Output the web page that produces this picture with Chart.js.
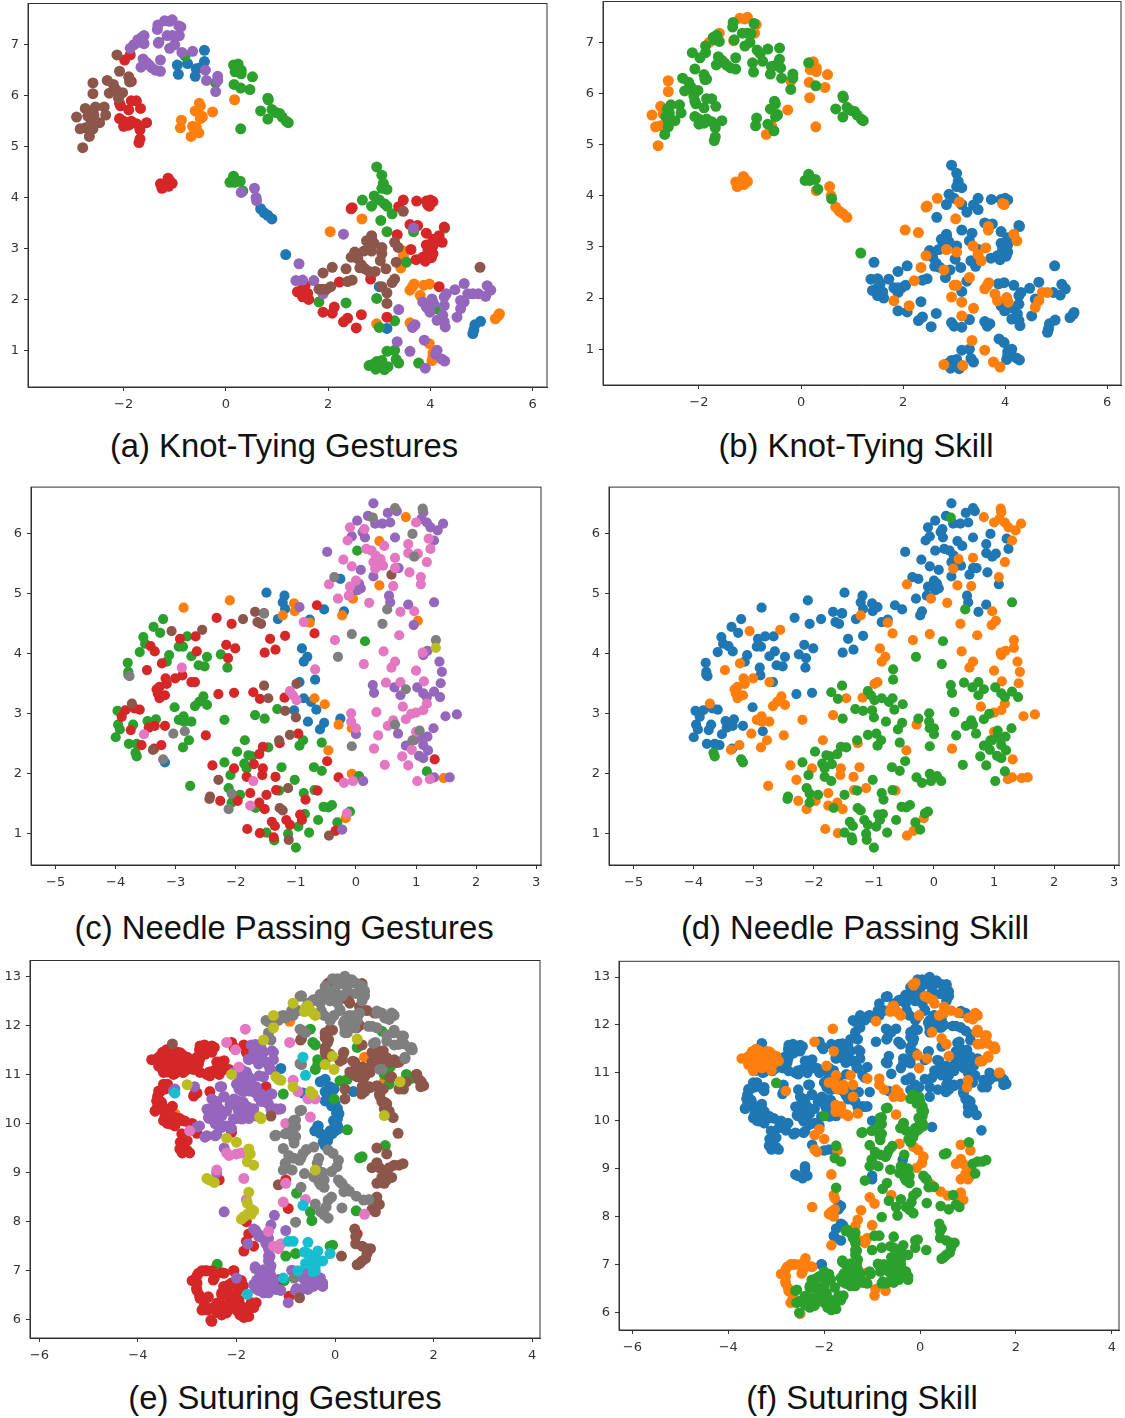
<!DOCTYPE html>
<html>
<head>
<meta charset="utf-8">
<script src="https://cdn.jsdelivr.net/npm/chart.js@4"></script>
<style>
html, body { margin: 0; background: #fff; }
body { position: relative; width: 1125px; height: 1418px; overflow: hidden; }
canvas { position: absolute; filter: blur(0.5px); }
.cap { position: absolute; width: 560px; text-align: center; font: 32.8px "Liberation Sans", Arial, sans-serif; color: #111; line-height: 36px; white-space: nowrap; }
</style>
</head>
<body>
<script>
const gestureColors = ['#1f77b4', '#ff7f0e', '#2ca02c', '#d62728', '#9467bd', '#8c564b', '#e377c2', '#7f7f7f', '#bcbd22', '#17becf'];
const skillColors = ['#1f77b4', '#ff7f0e', '#2ca02c'];

// every point is [x, y, skill] (skill 0 blue, 1 orange, 2 green), grouped by gesture colour

// Knot-Tying
const knotBlue = [[-0.95,6.6,2],[-0.93,6.42,2],[-0.75,6.63,2],[-0.58,6.53,2],[-0.6,6.38,2],[-0.5,6.55,2],[-0.42,6.67,2],[-0.42,6.89,2],[0.68,3.78,1],[0.75,3.7,1],[0.82,3.65,1],[0.9,3.58,1],[1.17,2.88,2],[3,2.25,1],[3.15,1.43,0],[4.85,1.4,0],[4.83,1.33,0],[4.87,1.5,0],[4.98,1.57,0]];
const knotOrange = [[-0.87,5.52,2],[-0.89,5.37,2],[-0.68,5.2,1],[-0.58,5.38,1],[-0.53,5.27,2],[-0.65,5.4,2],[-0.5,5.55,2],[-0.6,5.7,2],[-0.52,5.85,2],[-0.5,5.8,2],[-0.47,5.6,1],[-0.46,5.58,2],[-0.26,5.68,1],[0.17,5.92,1],[2.04,3.33,1],[2.66,3.58,0],[3.47,2.95,0],[3.47,2.85,1],[3.42,2.62,0],[3.6,2.18,1],[3.65,2.25,1],[3.68,2.3,1],[3.8,2.08,1],[3.87,2.28,0],[3.98,2.3,0],[4.02,1.78,0],[2.95,1.52,0],[3.6,1.54,0],[3.98,1.13,0],[4.05,0.95,0],[4.05,0.87,0],[4.03,0.8,0],[5.27,1.62,0],[5.33,1.68,0],[5.35,1.72,0]];
const knotGreen = [[0.15,6.6,2],[0.24,6.62,1],[0.18,6.47,1],[0.3,6.5,1],[0.3,6.43,1],[0.52,6.37,1],[0.16,6.22,1],[0.29,6.15,2],[0.47,6.12,1],[-0.8,6.78,2],[-0.2,6.25,1],[0.29,5.35,1],[0.82,5.95,2],[0.83,5.92,2],[0.68,5.7,2],[0.82,5.54,2],[0.9,5.73,2],[0.98,5.67,2],[1.05,5.65,2],[1.1,5.58,2],[1.18,5.5,2],[1.22,5.47,2],[0.08,4.3,2],[0.15,4.42,2],[0.17,4.3,2],[0.28,4.32,2],[0.33,4.13,2],[2.95,4.6,0],[3.05,4.44,0],[3.08,4.28,0],[3.05,4.18,0],[3.15,4.16,0],[2.67,3.95,1],[2.85,3.83,0],[2.9,4.03,0],[3,3.95,0],[3.1,3.88,1],[3.15,3.83,0],[3.25,3.68,0],[3.03,3.55,1],[3.15,3.33,0],[3.67,3.33,1],[4.28,3.4,0],[3.53,2.73,1],[1.82,1.95,1],[2.35,1.93,0],[2.95,2.02,1],[4.17,1.8,0],[3.3,1.58,0],[3,1.45,0],[3.3,1,0],[3.15,0.98,0],[3.33,0.82,0],[3.38,0.75,0],[2.8,0.7,1],[2.87,0.72,0],[2.95,0.78,0],[3,0.7,0],[3.05,0.8,0],[2.93,0.63,0],[3.1,0.62,0],[3.17,0.68,1],[3.77,0.75,1]];
const knotRed = [[-1.98,6.7,2],[-1.87,6.8,2],[-1.85,6.28,2],[-1.88,6.3,2],[-2.08,5.85,2],[-2.06,5.8,2],[-1.9,5.72,2],[-1.85,5.9,2],[-1.75,5.9,2],[-1.67,5.75,2],[-2.08,5.55,2],[-2,5.5,2],[-2,5.4,2],[-1.9,5.42,2],[-1.85,5.5,2],[-1.75,5.45,2],[-1.68,5.4,2],[-1.68,5.33,2],[-1.55,5.47,2],[-1.68,5.15,2],[-1.7,5.08,2],[-1.28,4.27,1],[-1.25,4.18,1],[-1.2,4.25,1],[-1.12,4.22,1],[-1.1,4.33,1],[-1.13,4.38,1],[-1.05,4.28,1],[3.38,3.82,0],[3.47,3.95,0],[2.45,3.78,1],[2.47,3.8,1],[3.73,3.93,0],[3.92,3.93,0],[3.98,3.83,1],[4,3.95,0],[4.05,3.92,0],[3.95,3.85,1],[3.6,3.47,0],[3.75,3.45,0],[3.35,3.27,0],[4.27,3.42,0],[3.92,3.3,0],[4.17,3.25,1],[4.05,3.18,0],[4.23,3.12,1],[3.92,3.07,0],[4.05,3.05,0],[3.95,2.95,0],[4.05,2.9,0],[3.62,2.98,1],[3.72,2.78,0],[3.9,2.75,0],[4.02,2.82,0],[3.85,2.83,0],[2.83,2.4,0],[2.22,2.34,1],[4.17,2.25,0],[1.4,2.15,0],[1.5,2.2,0],[1.55,2.28,0],[1.6,2.12,0],[1.5,2.05,0],[1.62,2,0],[1.55,2.1,0],[1.9,1.75,0],[2.08,1.73,0],[2.12,1.85,1],[2.3,1.56,0],[2.38,1.63,0],[2.55,1.44,0],[2.65,1.7,0],[3.15,1.65,1]];
const knotPurple = [[-1.34,7.3,2],[-1.33,7.39,2],[-1.2,7.47,1],[-1.1,7.46,1],[-1.05,7.49,1],[-0.92,7.37,2],[-0.88,7.35,1],[-0.91,7.18,1],[-1.15,7.18,2],[-1.05,7.18,2],[-0.98,7.17,2],[-1.32,7.03,1],[-1.31,7.05,2],[-1.1,6.93,2],[-1,7,2],[-1.87,6.93,2],[-1.8,7,1],[-1.72,7.1,2],[-1.65,7.14,2],[-1.6,7.18,1],[-1.6,7.02,2],[-1.7,7.05,2],[-1.62,6.72,2],[-1.55,6.65,2],[-1.66,6.56,2],[-1.45,6.55,2],[-1.38,6.5,2],[-1.28,6.48,2],[-1.28,6.7,2],[-1.5,6.6,2],[-0.86,6.85,2],[-0.65,6.87,2],[-0.4,6.5,2],[-0.38,6.3,2],[-0.16,6.38,2],[-0.16,6.3,2],[-0.2,6.08,2],[0.3,4.1,1],[0.56,4.18,1],[0.59,4,1],[0.6,3.94,2],[1.43,2.7,0],[1.37,2.37,0],[1.5,2.38,0],[1.72,2.37,0],[1.9,2.11,0],[2.3,3.28,1],[3.67,3.4,1],[3.38,1.8,1],[3.7,1.5,0],[3.65,1.45,0],[3.35,1.17,1],[3.6,0.98,1],[3.88,1.2,0],[4.13,1,0],[4.1,0.92,0],[4.22,0.83,0],[4.28,0.79,0],[3.9,0.65,1],[4.31,2.11,0],[4.48,2.19,0],[4.66,2.31,0],[4.83,2.11,1],[5.11,2.27,0],[5.18,2.18,0],[5.08,2.06,0],[4.94,2.11,0],[4.73,2.11,1],[4.59,1.98,0],[4.66,1.95,1],[4.59,1.82,1],[4.52,1.65,0],[4.27,2.05,0],[4.27,1.88,0],[4.24,1.69,0],[4.13,1.59,0],[4.27,1.56,0],[4.29,1.46,0],[3.85,1.95,1],[4.03,2.01,1],[3.99,1.75,0],[3.92,1.85,0],[4.06,1.92,1]];
const knotBrown = [[-2.13,6.8,2],[-2.08,6.48,2],[-1.9,6.37,2],[-1.88,6.27,2],[-2.6,6.25,1],[-2.6,6.04,1],[-2.32,6.3,2],[-2.2,6.22,2],[-2.28,6.05,2],[-2.15,6.12,2],[-2.02,6.06,2],[-2.1,5.95,2],[-2.92,5.58,1],[-2.75,5.75,1],[-2.62,5.7,2],[-2.55,5.78,2],[-2.65,5.55,2],[-2.7,5.6,1],[-2.58,5.62,2],[-2.38,5.78,2],[-2.35,5.62,2],[-2.47,5.47,2],[-2.6,5.45,2],[-2.75,5.37,1],[-2.85,5.35,1],[-2.68,5.38,1],[-2.6,5.35,2],[-2.67,5.2,2],[-2.8,4.98,1],[3.47,3.73,0],[2.85,3.25,0],[2.75,3.15,0],[2.8,3.1,0],[2.9,3.1,0],[2.8,3,0],[2.85,2.95,1],[2.7,2.95,0],[3.05,3.02,0],[3.05,2.9,1],[3.3,3.12,0],[3.37,3.02,1],[3.02,2.76,0],[2.52,2.93,0],[2.45,2.83,1],[2.58,2.8,0],[2.65,2.68,0],[2.72,2.6,0],[2.8,2.55,1],[2.92,2.55,0],[3.13,2.6,0],[3.33,2.73,0],[2.62,2.62,0],[2.35,2.6,1],[2.08,2.63,0],[1.9,2.52,0],[1.82,2.2,0],[1.97,2.2,0],[1.9,2.2,0],[2.05,2.25,0],[2.47,2.38,0],[2.38,2.35,0],[3.3,2.4,1],[3.25,2.33,0],[3.05,2.25,1],[3.15,2.13,0],[3.15,1.92,1],[4.97,2.63,0],[2.85,3.2,0]];
const knotGroups = [knotBlue, knotOrange, knotGreen, knotRed, knotPurple, knotBrown];

// Needle Passing
const needleBlue = [[-1.49,5.02,0],[-1.19,4.97,0],[-1.22,4.86,0],[-1.18,4.75,0],[-1.3,4.58,0],[-0.77,4.57,0],[-0.53,4.74,0],[-0.2,4.71,0],[-0.26,5.25,0],[-0.9,4.09,1],[-0.81,3.95,1],[-0.87,3.87,1],[-0.94,3.53,1],[-0.68,3.57,2],[-0.87,3.26,2],[-0.75,3.2,2],[-0.66,3.07,2],[-1.03,3.06,2],[-0.8,2.87,2],[-0.6,2.74,2],[-0.53,2.85,2],[-0.26,2.92,2],[-3.18,2.19,2]];
const needleOrange = [[-2.87,4.77,0],[-2.1,4.89,0],[-1.03,4.84,0],[-1.02,4.71,0],[-1.22,4.64,1],[-0.77,4.52,1],[-0.23,4.64,0],[0.39,5.88,0],[0.83,6.28,1],[0.39,5.14,1],[-0.05,4.92,1],[1.03,4.55,1],[-0.69,3.26,2],[-0.52,3.16,2],[-0.29,2.82,1],[-0.07,2.76,2],[-0.46,2.39,1],[-0.07,2,2],[-0.17,1.26,1],[1.46,1.93,1]];
const needleGreen = [[-3.21,4.58,0],[-3.37,4.45,0],[-3.26,4.35,0],[-3.54,4.28,0],[-3.51,4.17,0],[-3.6,4.03,0],[-3.11,3.98,0],[-3.15,3.87,0],[-2.81,4.29,0],[-2.95,4.12,0],[-2.88,4.12,0],[-2.74,3.96,0],[-2.48,3.95,0],[-2.62,3.81,0],[-2.52,3.79,0],[-2.25,3.99,0],[-2.14,3.77,0],[-3.8,3.85,0],[-3.79,3.7,0],[-3.79,3.65,0],[-2.54,3.29,1],[-2.61,3.2,1],[-2.48,3.15,1],[-2.68,3.13,1],[-3.02,3.11,0],[-2.95,2.9,1],[-2.87,2.96,1],[-2.86,2.87,1],[-2.74,2.87,1],[-2.19,2.9,1],[-1.68,2.98,1],[-1.52,2.92,2],[-1.31,3.08,2],[-3.97,3.05,0],[-3.96,2.82,0],[-3.93,2.74,0],[-4,2.61,0],[-3.71,2.82,0],[-3.47,2.88,0],[-3.33,2.91,0],[-3.78,2.5,0],[-3.65,2.5,0],[-3.67,2.35,2],[-3.65,2.29,2],[-2.78,2.56,1],[-2.88,2.44,1],[-1.85,2.56,1],[-1.98,2.37,2],[-2.19,2.19,2],[-2.09,1.98,2],[-1.79,2.31,2],[-1.86,2.17,2],[-1.82,2.09,2],[-1.73,2.29,2],[-1.46,2.44,2],[-1.24,2.11,1],[-2.76,1.8,1],[-2.12,1.76,2],[-1.93,1.65,2],[-2.07,1.52,2],[-1.67,1.43,2],[-1.28,1.72,2],[-1.02,1.9,2],[-0.87,1.68,2],[-0.69,1.73,2],[-0.7,2.11,2],[-0.57,2.05,2],[-0.57,2.52,2],[-0.88,2.56,2],[-0.94,2.47,2],[-0.54,1.45,2],[-0.46,1.44,2],[-0.4,1.48,2],[-0.1,1.37,2],[-0.63,1.23,2],[-0.31,1.19,2],[-0.85,1.33,2],[-0.78,1.02,2],[-0.96,1.12,2],[-1.49,1.02,2],[-1.13,1,2],[-1.36,0.89,2],[-1,0.77,2],[0.02,5.72,0],[0.15,4.21,2],[1.18,2.04,2],[0.05,1.96,2]];
const needleRed = [[-2.32,4.6,0],[-2.07,4.5,0],[-2.67,4.29,0],[-2.93,4.25,0],[-2.65,4.04,0],[-2.16,4.15,0],[-2.01,4.09,0],[-2.13,3.93,0],[-1.43,4.25,0],[-1.52,4.02,0],[-1.34,4.07,0],[-1.18,4.3,0],[-0.69,4.34,1],[-0.65,4.81,0],[-3.42,4.13,0],[-3.35,4.04,0],[-3.23,3.84,1],[-3.48,3.73,1],[-3.17,3.59,1],[-3.32,3.41,1],[-3.27,3.45,1],[-3.3,3.34,1],[-3.27,3.26,1],[-3.18,3.31,1],[-3.15,3.5,1],[-3.01,3.59,1],[-2.89,3.64,0],[-2.74,3.53,1],[-2.68,3.53,0],[-2.29,3.33,0],[-2.03,3.35,0],[-1.71,3.36,2],[-1.6,3.25,2],[-1.19,3.27,1],[-3.84,3.06,0],[-3.69,3.09,0],[-3.6,3.07,0],[-3.9,2.95,0],[-3.75,2.73,0],[-3.45,2.77,0],[-3.35,2.8,0],[-3.18,2.8,0],[-3.57,2.48,0],[-3.36,2.42,0],[-3.24,2.48,1],[-2.5,2.64,1],[-0.96,2.67,2],[-1.27,2.51,1],[-1.55,2.45,2],[-1.61,2.33,2],[-1.7,2.16,2],[-1.55,2.09,1],[-1.56,1.98,1],[-1.82,1.95,2],[-2.03,2.09,1],[-2.39,2.14,1],[-2.26,1.55,1],[-1.97,1.55,1],[-1.76,1.68,1],[-1.49,1.65,2],[-1.34,1.95,1],[-1.61,1.52,1],[-1.52,1.41,1],[-1.33,1.73,1],[-0.84,1.57,2],[-0.64,1.72,1],[-0.48,2.21,2],[-0.29,1.94,2],[-1.81,1.08,1],[-1.6,1.01,1],[-1.4,1.2,2],[-1.35,1.13,2],[-1.37,0.94,2],[-1.16,1.23,2],[-1.1,1.15,2],[-0.93,1.32,2],[-0.9,1.23,2],[-0.34,1.05,1],[1.31,2.24,1]];
const needlePurple = [[0.29,6.51,0],[0.02,6.22,0],[0.2,6.3,0],[0.32,6.17,0],[0.44,6.17,0],[0.53,6.35,0],[0.68,6.38,0],[0.65,5.94,0],[0.57,6.19,0],[0.11,6.03,0],[0.15,5.94,0],[-0.07,5.96,0],[-0.48,5.7,0],[1.09,6.25,1],[1.12,6.36,1],[1.18,6.19,1],[1.24,6.11,1],[1.36,6.06,1],[1.45,6.17,1],[1.3,5.89,1],[0.08,5.4,0],[0.29,5.29,0],[0.71,5.43,0],[0.05,5.17,0],[0.08,5.09,0],[0.02,5.06,0],[0.55,4.97,0],[0.57,4.86,0],[0.87,4.82,0],[1.3,4.86,2],[-0.94,4.78,0],[0.96,4.48,1],[1.12,3.98,1],[1.19,4.05,1],[1.39,3.87,1],[1.43,3.7,1],[1.41,3.51,1],[0.28,3.48,2],[0.3,3.35,2],[0.64,3.44,2],[0.74,3.31,2],[1.02,3.44,2],[1.12,3.34,2],[1.18,3.28,2],[1.3,3.37,2],[1.4,3.28,2],[1.49,2.96,1],[1.68,2.99,1],[1.29,2.76,2],[0.7,2.67,2],[0,2.66,2],[0.83,2.47,2],[0.97,2.56,2],[1.06,2.62,2],[1.19,2.62,2],[1.12,2.48,2],[1.2,2.39,2],[1.05,2.3,2],[1.12,2.26,2],[0.12,1.88,2],[1.3,1.94,1],[1.56,1.94,1],[-0.23,1.07,2]];
const needleBrown = [[-3.07,4.38,1],[-2.56,4.4,1],[-1.88,4.58,0],[-1.68,4.7,0],[-1.53,4.68,0],[-1.64,4.53,0],[-1.58,4.5,0],[-0.99,3.5,1],[-1.53,3.47,2],[-1.46,3.26,1],[-1.18,3.05,2],[-1,2.94,2],[-1.1,2.65,2],[-1.28,2.56,2],[-2.29,1.9,1],[-2.43,1.62,2],[-2.44,1.58,2],[-1.13,1.76,1],[-1.27,1.43,2],[-1.22,1.39,2],[-1.12,0.9,2],[-0.45,0.97,1],[0.59,5.32,0],[-3.73,3.17,1],[-3.38,2.4,1]];
const needlePink = [[-0.1,6.11,0],[0.14,6.08,0],[-0.14,5.89,0],[0.47,5.8,0],[0.17,5.75,0],[0.26,5.72,0],[0.33,5.64,0],[0.41,5.58,1],[0.29,5.53,0],[0.38,5.47,0],[0.32,5.42,1],[0.45,5.47,0],[0.65,5.6,1],[0.87,5.83,0],[0.87,5.68,0],[1,6.19,1],[1.03,5.67,0],[1.21,5.92,0],[1.24,5.75,0],[1.18,5.53,1],[-0.21,5.57,0],[-0.07,5.46,0],[0.65,5.43,0],[0.89,5.36,0],[1.08,5.28,1],[1.08,5.16,0],[0,5.22,0],[-0.1,5.12,0],[-0.45,5.16,1],[-0.3,4.92,0],[-0.12,4.97,0],[0.22,4.85,1],[0.62,5.13,1],[0.74,4.7,0],[0.97,4.71,1],[0.72,4.31,1],[0.46,4.04,1],[-0.35,4.23,1],[0.13,3.83,2],[0.65,3.87,1],[0.59,3.77,1],[1,3.72,1],[1.11,4.02,1],[0.5,3.52,2],[0.74,3.53,2],[1.13,3.54,1],[-0.68,3.74,2],[-1.1,3.38,2],[-1.05,3.31,2],[-0.99,3.23,2],[-0.87,4.53,0],[0.34,3.03,2],[0.78,3.12,1],[0.83,2.91,2],[0.92,3,2],[1,3.02,1],[1.12,3.06,1],[1.18,3.17,1],[-0.08,3.01,2],[-0.08,2.87,2],[0,2.76,2],[0.53,2.8,2],[0.62,2.89,2],[0.37,2.64,2],[0.3,2.42,1],[0.77,2.29,2],[0.87,2.14,2],[0.48,2.15,2],[0.93,2.4,2],[1,2.7,1],[1.02,1.88,2],[1.23,1.91,1],[-0.2,1.85,2],[-0.05,1.88,2],[-1.71,1.88,2],[-1.76,1.47,1],[-0.15,1.34,2],[-2.9,3.77,0],[-3.53,2.66,0]];
const needleGray = [[0.28,6.27,2],[0.65,6.43,0],[1.11,6.42,1],[0.94,6,0],[0.97,5.62,0],[-0.36,5.28,0],[0.52,4.74,2],[0.44,4.5,1],[-0.07,4.33,1],[-0.3,3.95,2],[1.33,4.23,1],[-1.53,4.67,0],[0.83,3.41,2],[0.65,2.82,2],[1.06,2.72,2],[0.94,2.56,2],[-0.07,2.46,2],[-3.04,2.67,1],[-2.85,2.71,0],[-3.77,3.63,0],[-3.21,2.24,2],[-2.07,1.67,2],[-2.12,1.41,1]];
const needleOlive = [[1.33,4.1,1]];
const needleGroups = [needleBlue, needleOrange, needleGreen, needleRed, needlePurple, needleBrown, needlePink, needleGray, needleOlive];

// Suturing
const sutureBlue = [[-0.3,10.85,0],[-0.2,10.9,0],[-0.1,10.75,0],[-0.2,10.65,0],[-0.02,10.7,0],[-0.15,10.55,2],[-0.1,10.45,2],[0,10.4,2],[0.05,10.3,2],[0.08,10.2,2],[0.05,10.1,2],[0,10,2],[0.05,9.95,2],[-0.35,9.95,2],[-0.4,9.85,2],[-0.3,9.8,2],[-0.2,9.75,2],[-0.1,9.85,2],[0,9.85,2],[-0.15,9.65,2],[-0.2,9.55,2],[-0.05,9.8,2],[-1.35,11.2,0],[-1.1,11.12,0],[0.37,10.65,0],[-0.65,10.62,0],[-0.24,10.87,0],[-0.03,10.7,0],[-0.2,10.46,2],[-0.07,10.36,2],[0.03,10.22,2],[-0.03,10.06,2],[0.07,9.89,2],[-0.34,9.95,2],[-0.41,9.85,2],[-0.13,9.72,2],[-0.24,9.62,2]];
const sutureOrange = [[-0.92,12.08,1],[0.6,11.35,1],[1,10.85,1],[-3.25,10.2,0]];
const sutureGreen = [[-0.5,11.92,0],[-0.45,11.65,0],[-0.4,11.6,0],[-0.35,11.3,0],[-0.4,11.1,0],[-0.35,11.2,0],[0.45,11.55,0],[0.95,11.88,0],[0.1,10.87,0],[0.25,10.9,0],[1.12,11.15,0],[1.45,11,0],[1.45,10.9,0],[1.55,10.92,0],[1,11,0],[1.1,10.8,0],[-1.05,10.6,0],[-0.02,10.5,2],[0.25,9.87,0],[0.5,9.3,2],[0.55,9.32,2],[1.02,9.55,2],[-0.32,9.02,2],[-0.78,8.58,2],[0.43,8.22,2],[-0.5,8.2,2],[-0.47,8.02,2],[-0.05,7.52,2],[-0.1,7.5,2],[-1,7.3,2],[-0.8,7.35,2],[-2.39,7.13,1],[-1.03,6.8,2],[-2.4,10.4,0]];
const sutureRed = [[-3.72,11.3,1],[-3.6,11.33,1],[-3.5,11.45,1],[-3.42,11.5,1],[-3.35,11.45,1],[-3.3,11.35,1],[-3.45,11.3,1],[-3.4,11.2,1],[-3.55,11.2,1],[-3.5,11.1,1],[-3.4,11.05,0],[-3.3,11.1,1],[-3.2,11.25,1],[-3.2,11.45,1],[-3.1,11.4,1],[-3,11.35,1],[-3.05,11.2,1],[-3,11.1,0],[-3.1,11.05,1],[-3.25,11.02,0],[-2.95,11.25,1],[-2.85,11.2,0],[-2.8,11.35,0],[-2.75,11.5,0],[-2.65,11.6,0],[-2.75,11.3,0],[-2.55,11.5,0],[-2.45,11.55,0],[-2.5,11.45,0],[-2.4,11.25,0],[-2.35,11.25,0],[-2.25,11.28,0],[-2.45,11.08,0],[-2.35,11,0],[-2.25,11.1,0],[-2.15,11.1,0],[-2.6,11,0],[-2.55,11.05,0],[-3.55,11.37,1],[-3.38,11.48,1],[-3.14,11.44,1],[-2.94,11.31,0],[-2.74,11.58,0],[-2.5,11.58,0],[-2.64,11.41,0],[-2.77,11.21,0],[-2.87,11.1,0],[-3.08,11.04,0],[-3.28,11.17,1],[-3.48,11.04,1],[-3.35,11.31,1],[-3.58,11.17,1],[-3.11,11.21,1],[-2.54,10.97,0],[-2.37,11.24,0],[-2.33,11.07,0],[-2.74,11.04,0],[-3.28,11,0],[-3.4,10.8,0],[-3.45,10.7,0],[-3.55,10.65,0],[-3.6,10.55,0],[-3.55,10.45,0],[-3.6,10.35,0],[-3.65,10.25,0],[-3.5,10.35,0],[-3.45,10.25,0],[-3.35,10.3,0],[-3.3,10.35,0],[-3.45,10.15,0],[-3.35,10.1,0],[-3.3,10,0],[-3.4,10,0],[-3.15,10.1,0],[-3.05,10.05,0],[-3.25,9.95,0],[-2.9,10,0],[-2.8,9.8,0],[-3.05,9.75,0],[-3,9.65,0],[-3.1,9.6,0],[-3.15,9.48,0],[-3.1,9.4,0],[-3,9.45,0],[-2.95,9.4,0],[-3.48,10.8,0],[-3.58,10.66,0],[-3.62,10.46,0],[-3.65,10.26,0],[-3.52,10.43,0],[-3.48,10.06,0],[-3.35,9.99,0],[-3.24,10.12,0],[-3.11,10.06,0],[-3.11,9.79,0],[-2.94,9.99,0],[-3.14,9.62,0],[-2.85,10.6,0],[-2.8,10.62,1],[-2.87,10.56,0],[-2.54,10.65,0],[-2.1,11.65,0],[-2.05,11.55,0],[-1.85,11.6,0],[-1.8,11.45,1],[-1.4,10.75,1],[-2.1,9.82,1],[-2.35,8.85,0],[-1,8.85,0],[-0.95,8.27,1],[0.45,7.75,2],[-1.8,8,1],[-1.75,7.75,0],[-1.8,7.6,0],[-1.65,7.5,0],[-1.85,7.4,1],[-1.13,6.82,1],[-0.93,6.48,1],[-1.45,6.62,2],[-2.9,6.8,1],[-2.8,6.9,1],[-2.7,7,1],[-2.6,7,1],[-2.5,7,1],[-2.45,6.85,1],[-2.8,6.75,1],[-2.8,6.6,1],[-2.75,6.5,1],[-2.6,6.45,2],[-2.65,6.3,1],[-2.7,6.2,1],[-2.58,6.2,2],[-2.5,5.97,1],[-2.4,6.15,2],[-2.3,6.1,2],[-2.2,6.2,2],[-2.1,6.35,2],[-2.25,6.3,2],[-2.3,6.55,2],[-2.2,6.65,2],[-2.1,6.75,2],[-2,6.7,2],[-1.9,6.8,2],[-2.25,6.95,1],[-2.05,7,0],[-2.1,6.5,2],[-2,6.55,2],[-1.95,6.4,2],[-2,6.2,2],[-1.9,6.12,2],[-1.85,6.05,2],[-1.75,6.07,2],[-1.8,6.2,2],[-1.7,6.35,2],[-1.6,6.35,2],[-1.65,6.25,2],[-2.87,6.8,1],[-2.64,7,1],[-2.77,6.95,1],[-2.3,6.96,1],[-2.06,7,0],[-2.47,6.81,1],[-2.81,6.64,1],[-2.74,6.44,1],[-2.57,6.47,2],[-2.67,6.24,1],[-2.5,6.24,2],[-2.33,6.2,2],[-2.52,5.99,2],[-2.2,6.14,2],[-2.03,6.27,2],[-1.93,6.1,2],[-1.86,6.07,2],[-1.89,6.27,2],[-1.72,6.27,2],[-1.66,6.34,2],[-2.26,6.68,2],[-2.3,6.51,2],[-2.13,6.41,2],[-2.16,6.71,2],[-1.96,6.64,2],[-1.86,6.69,2],[-2.03,6.47,2],[-2.4,6.34,2],[-2.16,6.27,2]];
const suturePurple = [[-1.7,11.6,0],[-1.6,11.6,0],[-1.5,11.55,0],[-1.45,11.45,0],[-1.65,11.45,0],[-1.55,11.4,0],[-1.6,11.3,0],[-1.5,11.3,0],[-1.75,11.3,0],[-1.4,11.25,0],[-1.25,11.45,0],[-1.25,11.3,0],[-1.3,11.1,0],[-1.62,11.61,0],[-1.49,11.48,0],[-1.28,11.48,0],[-1.76,11.31,0],[-1.59,11.37,0],[-1.55,11.21,0],[-1.32,11.1,0],[-1.54,10.97,0],[-1.79,11,0],[-1.96,10.83,0],[-1.79,10.83,1],[-1.89,10.66,0],[-1.72,10.66,1],[-1.62,10.63,0],[-1.55,10.53,0],[-1.39,10.43,0],[-1.28,10.6,0],[-1.15,10.29,0],[-1.99,10.43,0],[-2.13,10.39,0],[-1.86,10.43,0],[-1.76,10.33,1],[-1.96,10.26,0],[-2.06,10.09,0],[-1.89,10.09,0],[-1.76,10.19,1],[-2.33,10.75,0],[-2.26,10.54,0],[-2.5,10.5,0],[-2.43,10.33,0],[-2.6,10.29,0],[-2.57,10.12,0],[-2.4,10.16,0],[-2.3,9.92,0],[-2.43,9.99,0],[-2.64,9.72,0],[-2.43,9.75,0],[-2.8,9.93,0],[-3.28,10.66,0],[-2.05,11.05,0],[-1.9,11.1,0],[-1.8,11.05,0],[-1.9,10.95,0],[-1.75,10.95,1],[-2,10.8,0],[-1.9,10.8,1],[-1.8,10.8,1],[-1.7,10.85,0],[-1.6,10.75,1],[-1.75,10.7,1],[-1.85,10.65,0],[-1.95,10.7,0],[-1.6,10.65,1],[-1.45,10.95,1],[-1.5,10.6,0],[-1.3,10.6,0],[-1.4,10.5,1],[-1.5,10.45,0],[-1.35,10.4,0],[-2.3,10.75,0],[-2.25,10.55,0],[-2.05,10.5,0],[-1.95,10.45,0],[-2,10.35,0],[-1.9,10.3,0],[-1.8,10.35,0],[-1.85,10.2,0],[-1.75,10.25,1],[-1.65,10.3,1],[-1.75,10.1,0],[-1.6,10.15,1],[-1.9,10.1,0],[-2,10.1,2],[-1.2,10.3,0],[-1.1,10.3,0],[-1.3,10.28,0],[-2.4,10.45,0],[-2.35,10.3,0],[-2.55,10.3,0],[-2.5,10.2,0],[-2.4,10.2,0],[-2.3,10.15,0],[-2.55,10.1,0],[-2.45,10.05,0],[-2.35,10,0],[-2.2,10.25,0],[-2.2,9.95,0],[-2.6,9.75,0],[-2.4,9.78,0],[-2.1,9.9,0],[-2.75,9.95,0],[-2.85,10.75,0],[-3.25,10.7,0],[-2.25,9.5,0],[-2.4,9,0],[-2.25,8.2,1],[-1.23,8.13,1],[-1.3,7.93,1],[-1,7.82,1],[-1.77,7.55,0],[-1.65,7.85,0],[-1.6,7.8,0],[-1.55,7.7,2],[-1.45,7.65,2],[-1.4,7.55,2],[-1.35,7.45,2],[-1.35,7.3,2],[-1.35,7.2,2],[-1.3,7.1,2],[-1.62,7.08,2],[-1.55,7,2],[-1.45,6.95,2],[-1.4,6.85,2],[-1.3,6.9,2],[-1.25,6.8,2],[-1.5,6.75,2],[-1.35,6.7,2],[-1.6,6.65,2],[-1.65,6.72,2],[-1.55,6.6,2],[-1.45,6.55,2],[-1.35,6.55,2],[-1.2,6.62,2],[-1.1,6.6,2],[-0.95,6.35,1],[-1.35,7.49,2],[-1.32,7.29,2],[-1.62,7.05,2],[-1.45,7.02,2],[-1.32,7.02,2],[-1.59,6.81,2],[-1.42,6.81,2],[-1.25,6.81,2],[-1.62,6.64,2],[-1.39,6.61,2],[-1.22,6.66,2],[-1.12,6.61,2],[-1.52,7.72,2],[-1.62,7.83,0],[-1.35,7.66,2],[-0.6,7,2],[-0.55,6.95,2],[-0.65,6.85,2],[-0.6,6.7,2],[-0.5,6.8,2],[-0.4,6.88,2],[-0.3,6.85,2],[-0.25,6.75,2],[-0.45,6.7,2],[-0.55,6.62,2],[-0.7,6.6,2],[-0.8,6.6,2],[-0.25,6.68,2],[-0.85,7,2],[-2,6.85,2],[-0.61,6.98,2],[-0.44,7.15,2],[-0.57,6.81,2],[-0.3,6.85,2],[-0.61,6.64,2],[-0.78,6.64,2],[-0.44,6.68,2],[-0.88,7.01,2]];
const sutureBrown = [[-3.3,11.62,0],[-0.15,12.85,1],[-0.1,12.88,1],[0.05,12.85,0],[0.55,12.85,0],[0.1,12.6,1],[0.2,12.55,1],[0.3,12.45,1],[0.5,12.38,1],[0.65,12.3,1],[0.8,12.25,1],[0.5,12,0],[-0.2,11.85,0],[-0.05,11.9,0],[-0.2,11.75,0],[-0.15,11.65,0],[-0.7,11.7,0],[-0.2,11.45,0],[-0.15,11.35,0],[0.18,11.45,0],[0.15,11.3,1],[0.4,11.25,0],[0.55,11.6,1],[0.75,11.45,0],[0.85,11.5,0],[0.95,11.4,0],[0.75,11.25,0],[0.9,11.25,0],[1.05,11.3,0],[0.85,11.15,0],[0.65,11.1,0],[0.55,11.15,0],[0.4,11.08,0],[0.3,11.05,0],[0.45,10.95,0],[0.6,10.95,0],[0.7,11.15,0],[-0.13,12.83,1],[0.14,12.59,1],[0.27,12.52,1],[0.51,12.35,1],[0.44,11.95,0],[-0.1,11.92,0],[-0.13,11.71,0],[-0.68,11.73,0],[-0.2,11.54,0],[-0.1,11.41,0],[0.17,11.44,0],[0.1,11.27,0],[0.36,11.27,0],[0.78,11.41,0],[0.98,11.48,0],[1.05,11.34,0],[0.88,11.27,0],[1.25,11.24,1],[0.37,11,0],[0.54,11.1,0],[0.71,11.04,0],[0.47,10.97,0],[1.2,11.3,0],[1.3,11.25,1],[1.1,11.25,0],[1.15,10.95,0],[0.55,10.75,0],[0.6,10.65,0],[0.7,10.75,0],[0.85,10.75,0],[0.98,10.7,1],[1.3,10.7,0],[1.45,10.85,0],[1.65,11,1],[1.7,10.9,0],[1.75,10.85,0],[1.8,10.77,0],[0.2,10.7,0],[0.2,10.5,0],[0.54,10.6,0],[0.58,10.8,0],[0.71,10.73,0],[0.85,10.77,0],[0.91,10.56,0],[1.01,10.43,0],[1.05,10.29,0],[1.18,10.12,0],[1.39,10.7,0],[1.66,11,1],[1.72,10.87,0],[1.74,10.75,0],[1.12,10.93,0],[0.9,10.6,0],[0.95,10.45,0],[1.05,10.4,0],[1,10.3,0],[1.1,10.25,0],[1.28,9.8,0],[-1.3,10.15,1],[-0.72,6.45,1],[-1.15,8.75,2],[0.85,9.5,1],[1.05,9.38,1],[0.75,9.1,1],[0.85,9.2,1],[0.9,9.1,1],[1,9,1],[1.1,9.1,2],[1.2,9.15,2],[1.3,9.15,2],[1.38,9.18,2],[1.05,8.95,1],[0.95,8.9,1],[1.05,8.85,1],[1.15,8.9,2],[0.85,8.78,1],[1,8.78,1],[0.85,8.5,1],[0.8,8.35,1],[0.9,8.35,1],[0.75,8.25,2],[0.82,8.2,2],[0.4,7.85,2],[0.42,7.7,2],[0.42,7.55,2],[0.55,7.5,2],[0.65,7.45,2],[0.72,7.45,2],[0.65,7.35,2],[0.62,7.25,2],[0.55,7.2,2],[0.45,7.12,2],[0.5,7.15,2],[0.13,7.3,2]];
const suturePink = [[-1.82,11.92,1],[-2.2,11.65,1],[-2.02,11.5,0],[-0.92,11.65,0],[-1.95,11.15,1],[-0.85,10.88,1],[-0.75,10.65,1],[-0.55,10.5,1],[-0.4,10.5,1],[-0.5,10.13,1],[-1,10,0],[-2.95,9.85,0],[-2.2,9.4,1],[-2.15,9.35,1],[-2,9.38,0],[-1.9,9.4,0],[-2.4,9.05,0],[-1.85,8.88,1],[-1,8.78,0],[-1.05,8.4,1],[-0.6,8.45,1],[-1.8,8.45,1],[0.6,8.15,2],[-1.35,7.8,1],[-1.25,7.5,1],[-1.15,7.45,1],[-1.1,7.55,1]];
const sutureGray = [[-0.68,12.6,0],[-0.55,12.45,0],[-0.45,12.5,0],[-0.35,12.55,0],[-0.25,12.6,0],[-0.15,12.55,0],[-0.3,12.45,0],[-0.1,12.7,0],[0,12.75,0],[0.05,12.95,0],[0.2,13,0],[-0.05,12.95,0],[0.12,12.85,0],[0.3,12.85,0],[0.45,12.85,0],[0.55,12.8,0],[0.6,12.7,0],[0.6,12.6,0],[0.55,12.5,0],[0.42,12.65,0],[0.25,12.7,0],[0.15,12.6,0],[0,12.6,0],[-0.1,12.5,0],[0.05,12.45,0],[0.1,12.3,0],[-0.02,12.2,1],[-0.1,12.1,0],[-0.22,12.2,0],[-0.28,12.3,0],[0.2,12.1,0],[0.3,12.2,0],[0.4,12.2,1],[0.5,12.25,1],[0.3,12.05,0],[0.2,11.95,0],[0.25,11.85,1],[0.4,11.95,0],[0.45,12.1,0],[0.75,11.98,0],[0.85,11.95,0],[-0.2,12.79,0],[-0.3,12.63,0],[-0.44,12.52,0],[-0.27,12.25,0],[-0.07,12.15,0],[0.1,12.32,0],[0.27,12.19,0],[0.47,12.22,0],[0.17,12.05,0],[0.34,12.05,0],[0.2,11.85,0],[0.34,12.93,0],[0.51,12.73,0],[0.2,12.96,0],[-0.03,12.59,0],[0.85,12.29,0],[1.01,12.15,1],[1.18,12.22,1],[0.68,11.98,0],[1.18,11.85,1],[1.39,11.78,1],[1.29,11.61,1],[1.52,11.54,1],[1.05,11.68,0],[0.78,11.63,0],[1.42,11.32,1],[0.91,11.1,0],[-0.71,11.92,0],[-0.71,11.22,0],[-0.71,10.26,2],[-0.84,10.06,2],[-0.84,9.92,2],[-1.22,9.75,2],[-1.01,9.79,2],[-0.84,9.68,2],[-1.08,12.19,0],[-0.88,12.3,0],[-0.71,12.59,0],[1.05,12.15,1],[1.15,12.25,1],[1.2,12.2,1],[0.95,12.25,0],[1.1,12.12,1],[0.85,12.25,0],[-0.75,12.3,0],[-0.85,12.2,0],[-1.05,12.2,0],[-1,12.15,0],[-1.15,12.1,0],[-1.25,12.1,0],[-1.4,12.1,0],[-1.35,12.07,0],[-1.35,11.85,0],[-1.3,11.7,0],[-0.68,11.9,0],[-0.6,11.85,0],[1.2,11.9,1],[1.2,11.85,1],[1.05,11.8,0],[1.35,11.78,1],[1.4,11.62,1],[1.2,11.6,1],[1.55,11.55,1],[1.57,11.5,1],[1.42,11.35,1],[0.82,11.65,0],[-0.68,11.2,0],[0.95,11.1,0],[-0.68,10.27,2],[-0.8,10.07,2],[-0.8,9.93,2],[-1.2,9.76,2],[-0.98,9.8,2],[-0.8,9.73,2],[-0.83,9.6,2],[-1.05,9.49,2],[-0.94,9.35,2],[-1.01,9.19,2],[-0.83,9.29,2],[-0.72,9.25,2],[-0.58,9.47,2],[-0.43,9.52,1],[-0.65,9.39,2],[-1.05,9.05,2],[-0.36,9.19,0],[-0.33,9.29,2],[-0.14,9.46,1],[-0.04,9.39,1],[0.07,9.25,1],[0.04,9.12,1],[-0.07,9.02,1],[-0.62,8.98,2],[-0.43,8.91,2],[-0.29,8.91,2],[-0.22,8.85,2],[-0.29,8.75,2],[0.07,8.85,2],[0.14,8.78,2],[0.22,8.68,1],[0.18,8.61,2],[-0.69,8.7,2],[-0.07,8.5,2],[-0.14,8.44,2],[0.43,8.52,1],[0.58,8.44,1],[0.69,8.45,2],[-0.4,8.36,2],[-0.18,8.3,2],[0.14,8.28,2],[-0.29,8.2,2],[-0.22,8.14,2],[-0.14,8.07,2],[-0.8,7.99,2],[-0.83,6.85,2],[-0.98,9.1,2],[-0.87,9.05,2],[-0.69,9.3,2],[-0.25,9,2],[-0.22,8.7,2],[0.11,8.8,2],[0.29,8.62,2],[-0.32,8.8,2]];
const sutureOlive = [[-0.85,12.45,0],[-0.6,12.35,1],[-0.55,12.4,1],[-0.5,12.3,1],[-0.45,12.25,1],[-0.62,12.28,1],[-0.4,12.2,1],[-1.25,12.2,0],[-1.25,11.95,0],[-1.45,11.7,0],[-1.2,10.95,0],[-1.15,10.9,0],[-1.1,10.88,1],[-0.85,10.75,1],[-0.5,10.65,1],[-0.45,10.6,1],[-0.05,11.37,1],[-0.02,11.1,1],[-0.2,11.2,0],[0.45,11.72,1],[1.32,10.85,0],[1,10.16,0],[-3,10.79,2],[-2.1,11,0],[-1.53,10.13,1],[-1.5,10.1,1],[-2.2,9.7,1],[-2,9.62,1],[-1.75,9.48,2],[-1.72,9.38,1],[-1.78,9.22,2],[-1.65,9.15,2],[-2.6,8.88,0],[-2.55,8.85,0],[-2.45,8.8,0],[-1.75,8.6,2],[-1.78,8.38,1],[-1.7,8.25,0],[-1.65,8.22,0],[-1.78,8.15,1],[-1.7,8.15,0],[-1.9,8.05,1],[-1.85,8.1,1],[-0.4,9.05,2]];
const sutureCyan = [[-0.65,11.35,0],[-0.6,10.98,0],[-0.65,8.33,2],[-0.95,7.6,2],[-0.85,7.6,2],[-0.55,7.58,2],[-0.62,7.38,2],[-0.55,7.35,2],[-0.4,7.3,2],[-0.35,7.4,2],[-0.25,7.2,2],[-0.6,7.15,2],[-0.5,7.15,2],[-0.4,7.1,2],[-0.75,7,2],[-0.45,6.98,2],[-0.4,7,2],[-0.1,7.35,2],[-1.78,6.52,2],[-1.05,6.85,2],[-3.25,10.62,0]];
const sutureGroups = [sutureBlue, sutureOrange, sutureGreen, sutureRed, suturePurple, sutureBrown, suturePink, sutureGray, sutureOlive, sutureCyan];

const captions = ['(a) Knot-Tying Gestures', '(b) Knot-Tying Skill', '(c) Needle Passing Gestures', '(d) Needle Passing Skill', '(e) Suturing Gestures', '(f) Suturing Skill'];

function gestureSets(groups) {
    return groups.map(g => g.map(p => ({ x: p[0], y: p[1] })));
}

function skillSets(groups) {
    const all = groups.flat();
    return [0, 1, 2].map(s => all.filter(p => p[2] === s).map(p => ({ x: p[0], y: p[1] })));
}

// top and right spines, the library only draws left and bottom
const frame = {
    id: 'frame',
    beforeDatasetsDraw(chart) {
        const a = chart.chartArea, c = chart.ctx;
        c.save();
        c.strokeStyle = '#333';
        c.lineWidth = 1;
        c.strokeRect(a.left, a.top, a.right - a.left, a.bottom - a.top);
        c.restore();
    }
};

function minus(v) {
    return String(v).replace('-', '\u2212');
}

function scatter(box, sets, colors, xr, yr, xStep, radius) {
    const padL = 32, padT = 4, padR = 14, padB = 34;
    const cv = document.createElement('canvas');
    cv.width = box[2] + padL + padR;
    cv.height = box[3] + padT + padB;
    cv.style.left = (box[0] - padL) + 'px';
    cv.style.top = (box[1] - padT) + 'px';
    document.body.appendChild(cv);

    const axis = {
        type: 'linear',
        border: { color: '#333', width: 1 },
        grid: { drawOnChartArea: false, tickLength: 4, tickColor: '#333' },
    };
    const tick = {
        includeBounds: false, autoSkip: false, maxRotation: 0, minRotation: 0,
        color: '#333', font: { family: 'DejaVu Sans', size: 13 },
        callback: minus
    };

    new Chart(cv, {
        type: 'scatter',
        data: {
            datasets: sets.map((d, i) => ({
                data: d,
                backgroundColor: colors[i],
                borderWidth: 0,
                pointRadius: radius,
                order: sets.length - i
            }))
        },
        options: {
            responsive: false,
            animation: false,
            layout: { padding: { top: padT, right: padR, left: 0, bottom: 0 } },
            plugins: { legend: { display: false }, tooltip: { enabled: false } },
            scales: {
                x: { ...axis, min: xr[0], max: xr[1], ticks: { ...tick, stepSize: xStep, padding: 6 },
                    afterFit(s) { s.height = padB; s.paddingLeft = 0; s.paddingRight = 0; } },
                y: { ...axis, min: yr[0], max: yr[1], ticks: { ...tick, stepSize: 1, padding: 5 },
                    afterFit(s) { s.width = padL; s.paddingTop = 0; s.paddingBottom = 0; } }
            }
        },
        plugins: [frame]
    });
}

scatter([28, 2, 519, 385], gestureSets(knotGroups), gestureColors, [-3.87, 6.28], [0.28, 7.81], 2, 5.5);
scatter([603, 0, 518, 385], skillSets(knotGroups), skillColors, [-3.88, 6.27], [0.3, 7.8], 2, 5.5);
scatter([31, 486, 510, 379], gestureSets(needleGroups), gestureColors, [-5.41, 3.08], [0.48, 6.78], 1, 5.1);
scatter([609, 486, 510, 379], skillSets(needleGroups), skillColors, [-5.41, 3.08], [0.48, 6.78], 1, 5.1);
scatter([30, 959, 510, 379], gestureSets(sutureGroups), gestureColors, [-6.19, 4.16], [5.63, 13.32], 2, 5.5);
scatter([619, 960, 500, 370], skillSets(sutureGroups), skillColors, [-6.28, 4.15], [5.63, 13.33], 2, 5.3);

const capPos = [[4, 428], [576, 428], [4, 910], [575, 910], [5, 1380], [582, 1380]];
captions.forEach((t, i) => {
    const d = document.createElement('div');
    d.className = 'cap';
    d.textContent = t;
    d.style.left = capPos[i][0] + 'px';
    d.style.top = capPos[i][1] + 'px';
    document.body.appendChild(d);
});
</script>
</body>
</html>
